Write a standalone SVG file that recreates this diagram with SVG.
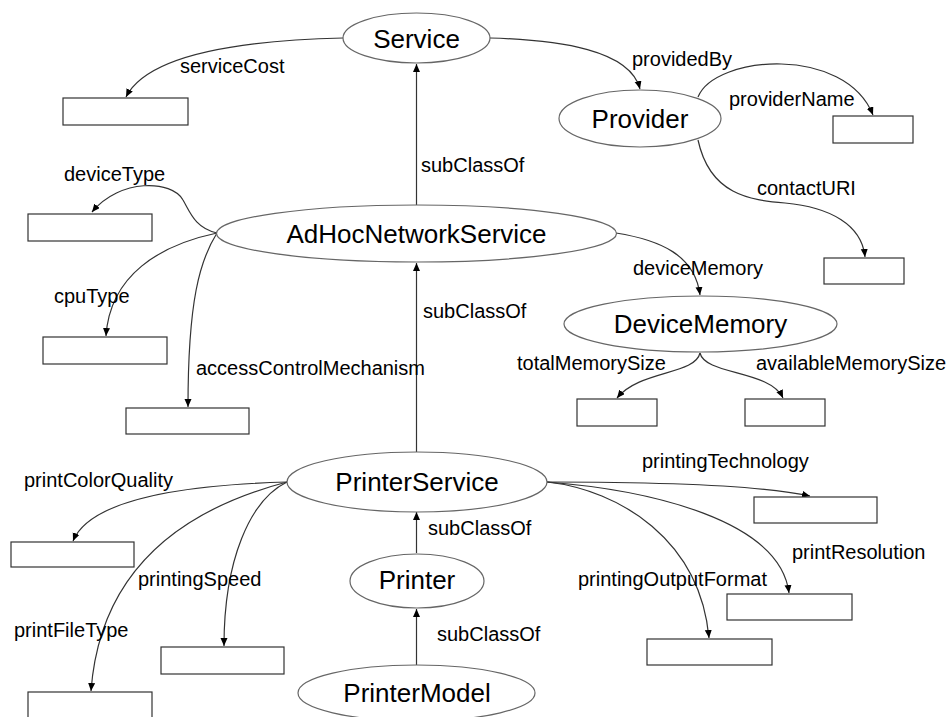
<svg xmlns="http://www.w3.org/2000/svg" width="951" height="717" viewBox="0 0 951 717">
<defs>
<marker id="arr" markerWidth="10" markerHeight="10" refX="8" refY="3.5" orient="auto" markerUnits="userSpaceOnUse">
<path d="M0,0 L8,3.5 L0,7 Z" fill="#000"/>
</marker>
<style>
.node ellipse{fill:#fff;stroke:#666;stroke-width:1.2}
.node text{font-family:"Liberation Sans",Arial,sans-serif;font-size:26px;fill:#000;text-anchor:middle}
.lit rect{fill:#fff;stroke:#333;stroke-width:1.2}
#edges path{fill:none;stroke:#333;stroke-width:1.2;marker-end:url(#arr)}
#labels text{font-family:"Liberation Sans",Arial,sans-serif;font-size:20px;fill:#000}
</style>
</defs>
<rect width="951" height="717" fill="#fff"/>
<g id="edges">
<path d="M343,38 C260,40 150,50 126,97"/>
<path d="M490,38 C560,40 630,50 640,89"/>
<path d="M698,97 C715,55 845,45 873,115"/>
<path d="M698,140 C710,195 750,200 785,203 C830,207 862,225 865,257"/>
<path d="M416.5,205 L416.5,64"/>
<path d="M217,233 C195,228 190,212 183,200 C172,180 120,178 92,212"/>
<path d="M217,233 C160,245 110,275 106,336"/>
<path d="M217,233 C200,260 188,300 188,407"/>
<path d="M616,233 C660,240 695,255 700,295"/>
<path d="M416.5,452 L416.5,263"/>
<path d="M700,353 C695,375 640,370 617,398"/>
<path d="M700,353 C705,375 770,370 783,398"/>
<path d="M287,482 C180,485 90,500 73,541"/>
<path d="M287,482 C180,510 100,570 91,691"/>
<path d="M287,482 C250,500 224,560 224,646"/>
<path d="M416.5,553 L416.5,512"/>
<path d="M416.5,665 L416.5,609"/>
<path d="M547,482 C650,482 760,485 810,496"/>
<path d="M547,482 C650,490 780,520 789,593"/>
<path d="M547,482 C620,490 700,540 709,638"/>
</g>
<g id="literals">
<g id="lit-serviceCost" class="lit"><rect x="63" y="98" width="125" height="27"/></g>
<g id="lit-providerName" class="lit"><rect x="833" y="116" width="80" height="27"/></g>
<g id="lit-contactURI" class="lit"><rect x="824" y="258" width="80" height="26"/></g>
<g id="lit-deviceType" class="lit"><rect x="28" y="214" width="124" height="27"/></g>
<g id="lit-cpuType" class="lit"><rect x="43" y="337" width="124" height="27"/></g>
<g id="lit-accessControlMechanism" class="lit"><rect x="126" y="408" width="123" height="26"/></g>
<g id="lit-totalMemorySize" class="lit"><rect x="577" y="399" width="80" height="27"/></g>
<g id="lit-availableMemorySize" class="lit"><rect x="745" y="399" width="80" height="27"/></g>
<g id="lit-printColorQuality" class="lit"><rect x="11" y="542" width="123" height="25"/></g>
<g id="lit-printFileType" class="lit"><rect x="28" y="692" width="124" height="30"/></g>
<g id="lit-printingSpeed" class="lit"><rect x="161" y="647" width="123" height="27"/></g>
<g id="lit-printingTechnology" class="lit"><rect x="754" y="497" width="123" height="26"/></g>
<g id="lit-printResolution" class="lit"><rect x="727" y="594" width="125" height="26"/></g>
<g id="lit-printingOutputFormat" class="lit"><rect x="647" y="639" width="125" height="26"/></g>
</g>
<g id="n-Service" class="node"><ellipse cx="416.5" cy="38" rx="73.5" ry="25"/><text x="416.5" y="48">Service</text></g>
<g id="n-Provider" class="node"><ellipse cx="640" cy="118.5" rx="81" ry="28.5"/><text x="640" y="128">Provider</text></g>
<g id="n-AdHocNetworkService" class="node"><ellipse cx="416.5" cy="233.5" rx="200" ry="28.5"/><text x="416.5" y="243">AdHocNetworkService</text></g>
<g id="n-DeviceMemory" class="node"><ellipse cx="700.5" cy="324" rx="136.5" ry="28"/><text x="700.5" y="333">DeviceMemory</text></g>
<g id="n-PrinterService" class="node"><ellipse cx="417" cy="482" rx="130" ry="30"/><text x="417" y="491">PrinterService</text></g>
<g id="n-Printer" class="node"><ellipse cx="417" cy="581" rx="67" ry="27"/><text x="417" y="589">Printer</text></g>
<g id="n-PrinterModel" class="node"><ellipse cx="416.5" cy="693" rx="118.5" ry="28"/><text x="417" y="702">PrinterModel</text></g>
<g id="labels">
<text x="180" y="73">serviceCost</text>
<text x="632" y="66">providedBy</text>
<text x="729" y="106">providerName</text>
<text x="757" y="195">contactURI</text>
<text x="421" y="172">subClassOf</text>
<text x="64" y="181">deviceType</text>
<text x="54" y="303">cpuType</text>
<text x="196" y="375">accessControlMechanism</text>
<text x="633" y="275">deviceMemory</text>
<text x="423" y="318">subClassOf</text>
<text x="517" y="370">totalMemorySize</text>
<text x="756" y="370">availableMemorySize</text>
<text x="642" y="468">printingTechnology</text>
<text x="24" y="487">printColorQuality</text>
<text x="792" y="559">printResolution</text>
<text x="578" y="586">printingOutputFormat</text>
<text x="138" y="586">printingSpeed</text>
<text x="428" y="535">subClassOf</text>
<text x="14" y="637">printFileType</text>
<text x="437" y="641">subClassOf</text>
</g>
</svg>
